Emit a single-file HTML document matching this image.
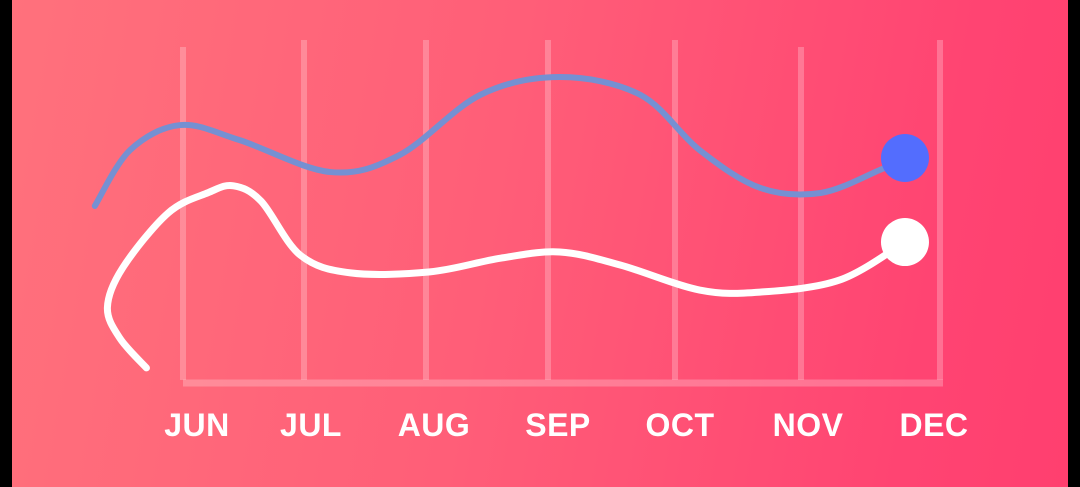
<!DOCTYPE html>
<html><head><meta charset="utf-8"><style>
html,body{margin:0;padding:0;background:#000;}
#wrap{position:absolute;left:12px;top:0;width:1056px;height:487px;background:linear-gradient(100deg,#ff717c 0%,#ff5e78 45%,#ff4472 85%,#ff3f6f 100%);}
svg{position:absolute;left:0;top:0;}
text{font-family:"Liberation Sans",sans-serif;font-weight:bold;font-size:32px;letter-spacing:0.5px;fill:#fff;text-anchor:middle;}
</style></head><body>
<div id="wrap"></div>
<svg id="chart" width="1080" height="487"></svg>
<script>
const months = ["JUN","JUL","AUG","SEP","OCT","NOV","DEC"];
const gridX = [183,304,426,548,675,801,940];
const gridTop = [47,40,40,40,40,47,40];
const labelX = [197,311,434,558,680,808,934];
const blueMonth = [-0.70,-0.42,-0.02,0.45,1.17,1.72,2.36,2.99,3.63,4.10,4.58,5.06,5.53,5.73];
const blueValue = [51.6,67.9,75.2,70.8,61.5,66.5,84.0,89.2,84.0,67.9,56.9,55.4,62.1,65.6];
const whiteMonth = [-0.29,-0.50,-0.60,-0.48,-0.12,0.20,0.40,0.62,0.93,1.33,1.96,2.52,2.99,3.47,4.10,4.58,5.21,5.73];
const whiteValue = [4.4,13.0,22.0,33.5,49.5,55.5,57.5,53.0,37.3,32.1,32.4,36.4,38.2,34.4,27.1,26.5,30.0,41.1];

const svg = document.getElementById('chart');
const NS = "http://www.w3.org/2000/svg";
const xs = m => 183 + m*126;
const ys = v => 383 - v*3.43;

function mk(tag, attrs){const e=document.createElementNS(NS,tag);for(const k in attrs)e.setAttribute(k,attrs[k]);svg.appendChild(e);return e;}

gridX.forEach((x,i)=>{
  const l = mk('line',{x1:x,y1:gridTop[i],x2:x,y2:380,stroke:'rgba(255,255,255,0.24)','stroke-width':6});
  
  
});
const base = mk('line',{x1:183,y1:383,x2:943,y2:383,stroke:'rgba(255,255,255,0.24)','stroke-width':7});



months.forEach((m,i)=>{
  const t = mk('text',{x:labelX[i],y:436});
  t.textContent = m;
  
  
});

function path(ms, vs){
  const p = ms.map((m,i)=>[xs(m),ys(vs[i])]);
  let d = `M${p[0][0]},${p[0][1]}`;
  for(let i=0;i<p.length-1;i++){
    const p0=p[Math.max(i-1,0)],p1=p[i],p2=p[i+1],p3=p[Math.min(i+2,p.length-1)];
    const c1=[p1[0]+(p2[0]-p0[0])/6,p1[1]+(p2[1]-p0[1])/6];
    const c2=[p2[0]-(p3[0]-p1[0])/6,p2[1]-(p3[1]-p1[1])/6];
    d+=` C${c1[0]},${c1[1]} ${c2[0]},${c2[1]} ${p2[0]},${p2[1]}`;
  }
  return d;
}
const bl = mk('path',{d:path(blueMonth,blueValue),fill:'none',stroke:'#7590d2','stroke-width':6,'stroke-linecap':'round'});


const wl = mk('path',{d:path(whiteMonth,whiteValue),fill:'none',stroke:'#ffffff','stroke-width':7,'stroke-linecap':'round'});


const bd = mk('circle',{cx:xs(blueMonth[blueMonth.length-1]),cy:ys(blueValue[blueValue.length-1]),r:24,fill:'#536dfe'});


const wd = mk('circle',{cx:xs(whiteMonth[whiteMonth.length-1]),cy:ys(whiteValue[whiteValue.length-1]),r:24,fill:'#ffffff'});


</script>
</body></html>
